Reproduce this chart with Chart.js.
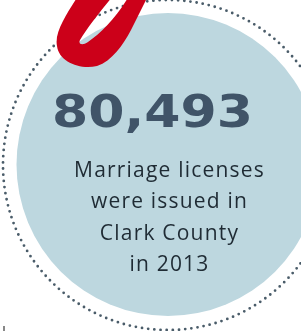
<!DOCTYPE html>
<html>
<head>
<meta charset="utf-8">
<script src="https://cdn.jsdelivr.net/npm/chart.js@4.4.1/dist/chart.umd.min.js"></script>
<style>
  html, body { margin: 0; padding: 0; background: #fff; }
  #wrap { width: 301px; height: 331px; }
</style>
</head>
<body>
<div id="wrap"><canvas id="chart" width="301" height="331"></canvas></div>
<script>
// data
const headlineValue = [80493];
const captionLines = ['Marriage licenses', 'were issued in', 'Clark County', 'in 2013'];

// layout (scale units = px)
const bubble = { x: 168, y: 164.5, r: 151.5 };
const ring = { x: 168, y: 165, r: 165 };

const colors = {
  bubble: '#bdd7df',
  ring: '#4a5c69',
  headline: '#405468',
  caption: '#1f2b34',
  red: '#cc0019',
};

// red brush stroke on top (outer edge, then the hole)
const redOuter = [
  ['M', 78, -4],
  ['C', 68, 12, 54, 32, 57, 46],
  ['C', 59, 62, 80, 70, 97, 66],
  ['C', 112, 61, 123, 45, 131, 30],
  ['L', 148, -4],
];
const redHole = [
  ['M', 113, -4],
  ['C', 103, 8, 87, 28, 80, 40],
  ['C', 78, 44, 82, 46, 88, 42],
  ['C', 101, 33, 116, 18, 129, -4],
];

function tracePath(ctx, sx, sy, cmds) {
  cmds.forEach(c => {
    if (c[0] === 'M') ctx.moveTo(sx(c[1]), sy(c[2]));
    else if (c[0] === 'L') ctx.lineTo(sx(c[1]), sy(c[2]));
    else ctx.bezierCurveTo(sx(c[1]), sy(c[2]), sx(c[3]), sy(c[4]), sx(c[5]), sy(c[6]));
  });
  ctx.closePath();
}

const infographic = {
  id: 'infographic',
  beforeDatasetsDraw(chart) {
    const { ctx, scales } = chart;
    const sx = v => scales.x.getPixelForValue(v);
    const sy = v => scales.y.getPixelForValue(v);
    // dotted ring
    ctx.save();
    ctx.strokeStyle = colors.ring;
    ctx.lineWidth = 2.8;
    ctx.lineCap = 'round';
    ctx.setLineDash([0, 6.2]);
    ctx.beginPath();
    ctx.arc(sx(ring.x), sy(ring.y), sx(ring.x + ring.r) - sx(ring.x), 0, Math.PI * 2);
    ctx.stroke();
    ctx.restore();
  },
  afterDatasetsDraw(chart) {
    const { ctx, scales } = chart;
    const sx = v => scales.x.getPixelForValue(v);
    const sy = v => scales.y.getPixelForValue(v);

    // red stroke
    ctx.save();
    ctx.fillStyle = colors.red;
    ctx.beginPath();
    tracePath(ctx, sx, sy, redOuter);
    tracePath(ctx, sx, sy, redHole);
    ctx.fill('evenodd');
    ctx.restore();

    // headline number
    const label = headlineValue[0].toLocaleString('en-US');
    ctx.save();
    ctx.font = 'bold 44px "DejaVu Sans"';
    ctx.fillStyle = colors.headline;
    ctx.textAlign = 'center';
    ctx.textBaseline = 'alphabetic';
    const w = ctx.measureText(label).width;
    const k = 201 / w;
    ctx.translate(sx(152.5), sy(127));
    ctx.scale(k, 1);
    ctx.fillText(label, 0, 0);
    ctx.restore();

    // caption
    ctx.save();
    ctx.font = '21px "Open Sans"';
    ctx.letterSpacing = '1.2px';
    ctx.fillStyle = colors.caption;
    ctx.textAlign = 'center';
    ctx.textBaseline = 'alphabetic';
    captionLines.forEach((line, i) => {
      ctx.fillText(line, sx(169.5), sy(177 + i * 31.3));
    });
    ctx.restore();

    // small tick at lower left
    ctx.save();
    ctx.strokeStyle = '#555';
    ctx.lineWidth = 1.4;
    ctx.beginPath();
    ctx.moveTo(sx(4), sy(326));
    ctx.lineTo(sx(4), sy(331));
    ctx.stroke();
    ctx.restore();
  }
};

new Chart(document.getElementById('chart'), {
  type: 'scatter',
  data: {
    datasets: [{
      data: [{ x: bubble.x, y: bubble.y }],
      pointRadius: bubble.r,
      pointHoverRadius: bubble.r,
      backgroundColor: colors.bubble,
      borderWidth: 0,
      clip: false,
    }]
  },
  options: {
    responsive: false,
    animation: false,
    events: [],
    layout: { padding: 0, autoPadding: false },
    scales: {
      x: { type: 'linear', min: 0, max: 301, display: false },
      y: { type: 'linear', min: 0, max: 331, reverse: true, display: false },
    },
    plugins: { legend: { display: false }, tooltip: { enabled: false } },
  },
  plugins: [infographic],
});
</script>
</body>
</html>
